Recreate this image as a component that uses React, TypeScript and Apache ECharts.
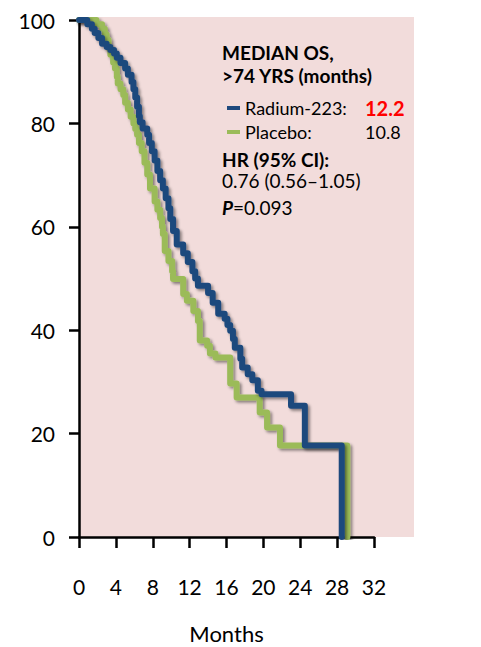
import React, { useEffect, useRef } from "react";
import * as echarts from "echarts";

// Kaplan–Meier overall survival, patients older than 74 years
const radiumMonths = [
  0, 0.9, 1.4, 1.7, 2.1, 2.5, 3.0, 3.4, 3.8, 4.1, 4.5, 5.0, 5.3, 5.7, 5.9, 6.1, 6.3, 6.5, 6.6, 6.9,
  7.4, 7.6, 7.9, 8.2, 8.5, 8.8, 9.1, 9.4, 9.7, 9.9, 10.2, 10.6, 11.3, 11.8, 12.3, 12.6, 12.9, 14.0,
  14.5, 15.1, 15.8, 16.1, 16.4, 16.7, 16.9, 17.5, 17.7, 18.3, 18.8, 19.4, 19.8, 23.0, 24.5, 28.5,
];
const radiumSurvival = [
  100, 99.2, 98.3, 97.5, 96.5, 95.4, 94.8, 94.2, 93.5, 92.7, 91.7, 90.6, 89.4, 88.0, 86.6, 85.0, 83.2,
  81.4, 80.2, 79.0, 77.8, 76.2, 74.6, 72.8, 70.8, 69.0, 67.4, 65.5, 63.6, 61.5, 59.2, 56.6, 54.9, 53.2,
  51.4, 50.0, 48.6, 47.2, 45.3, 43.2, 42.2, 41.0, 39.9, 38.3, 36.6, 34.5, 32.8, 31.5, 30.3, 28.3, 27.6,
  25.4, 17.7, 0,
];
const placeboMonths = [
  0, 1.9, 2.5, 2.8, 3.0, 3.2, 3.4, 3.7, 3.9, 4.1, 4.2, 4.5, 4.8, 5.0, 5.3, 5.6, 5.9, 6.1, 6.3, 6.5,
  6.8, 7.1, 7.4, 7.7, 8.2, 8.5, 8.8, 9.0, 9.1, 9.3, 9.7, 10.1, 10.2, 11.3, 11.7, 12.4, 12.9, 13.1,
  13.9, 14.2, 14.8, 16.4, 17.1, 19.6, 20.4, 21.8, 29.1,
];
const placeboSurvival = [
  100, 99.2, 98.3, 97.2, 96.2, 94.6, 93.3, 91.8, 90.6, 89.0, 87.7, 86.6, 85.5, 84.0, 82.7, 81.3, 80.0,
  78.9, 77.8, 76.2, 74.6, 72.4, 70.1, 67.4, 64.9, 63.3, 61.7, 60.0, 58.6, 55.3, 53.4, 51.4, 49.9, 47.0,
  45.7, 43.7, 41.8, 38.0, 37.0, 35.5, 34.7, 29.7, 27.0, 24.1, 21.2, 17.7, 0,
];

const seriesNames = ["Radium-223", "Placebo"];
const medianOS = ["12.2", "10.8"];
const hazardRatio = "0.76 (0.56\u20131.05)";
const pValue = "0.093";

const BLUE = "#1F497D";
const GREEN = "#9BBB59";
const PINK = "#F2DCDB";
const FONT = "Lato";

const pairs = (xs: number[], ys: number[]) => xs.map((x, i) => [x, ys[i]]);

const kmLine = (name: string, color: string, data: number[][]) => ({
  name,
  type: "line",
  xAxisIndex: 1,
  yAxisIndex: 1,
  step: "end",
  data,
  showSymbol: false,
  symbol: "none",
  lineStyle: {
    color,
    width: 6,
    cap: "round",
    join: "round",
    shadowColor: "rgba(0,0,0,0.45)",
    shadowBlur: 3,
    shadowOffsetX: 2,
    shadowOffsetY: 2,
  },
  itemStyle: { color },
  emphasis: { disabled: true },
  silent: true,
});

export default function App() {
  const ref = useRef<HTMLDivElement>(null);

  useEffect(() => {
    if (!ref.current) return;
    const chart = echarts.init(ref.current, null, { renderer: "svg" });

    const text = (t: string, y: number, bold: boolean) => ({
      type: "text",
      x: 222,
      y,
      style: {
        text: t,
        fontFamily: FONT,
        fontSize: 19,
        lineHeight: 19,
        fontWeight: bold ? "bold" : "normal",
        fill: "#000",
        verticalAlign: "middle",
      },
    });

    chart.setOption({
      animation: false,
      grid: [
        {
          left: 79, right: 67, top: 17, bottom: 110,
          show: true, backgroundColor: PINK, borderWidth: 0, outerBoundsMode: "none",
        },
        { left: 79, width: 295, top: 20, bottom: 110, outerBoundsMode: "none" },
      ],
      xAxis: [
        { gridIndex: 0, type: "value", min: 0, max: 1, show: false },
        {
          gridIndex: 1,
          type: "value",
          min: 0,
          max: 32,
          interval: 4,
          offset: 15,
          axisLine: { show: true, lineStyle: { color: "#000", width: 2.5 } },
          axisTick: { show: true, length: 11, lineStyle: { color: "#000", width: 2.5 } },
          axisLabel: { fontFamily: FONT, fontSize: 21, color: "#000", margin: 24 },
          splitLine: { show: false },
          name: "Months",
          nameLocation: "middle",
          nameGap: 70,
          nameTextStyle: { fontFamily: FONT, fontSize: 22, lineHeight: 22, color: "#000" },
        },
      ],
      yAxis: [
        { gridIndex: 0, type: "value", min: 0, max: 1, show: false },
        {
          gridIndex: 1,
          type: "value",
          min: 0,
          max: 100,
          interval: 20,
          offset: 10,
          axisLine: { show: true, lineStyle: { color: "#000", width: 2.5 } },
          axisTick: { show: true, length: 10, lineStyle: { color: "#000", width: 2.5 } },
          axisLabel: { fontFamily: FONT, fontSize: 21, color: "#000", margin: 14 },
          splitLine: { show: false },
        },
      ],
      legend: {
        data: seriesNames,
        orient: "vertical",
        left: 222,
        top: 93,
        itemWidth: 13,
        itemHeight: 4,
        itemGap: 5,
        icon: "rect",
        selectedMode: false,
        itemStyle: { shadowBlur: 0, shadowOffsetX: 0, shadowOffsetY: 0 },
        lineStyle: { shadowBlur: 0, shadowOffsetX: 0, shadowOffsetY: 0 },
        formatter: (name: string) =>
          name === seriesNames[0]
            ? `{n|${name}:}{r|${medianOS[0]}}`
            : `{n|${name}:}{p|${medianOS[1]}}`,
        textStyle: {
          fontFamily: FONT,
          fontSize: 18,
          color: "#000",
          rich: {
            n: { fontFamily: FONT, fontSize: 18, color: "#000", width: 120, height: 20 },
            r: { fontFamily: FONT, fontSize: 20, fontWeight: "bold", color: "#FF0000", height: 20 },
            p: { fontFamily: FONT, fontSize: 18, color: "#000", height: 20 },
          },
        },
      },
      graphic: [
        text("MEDIAN OS,", 52, true),
        text(">74 YRS (months)", 75, true),
        text("HR (95% CI):", 159, true),
        text(hazardRatio, 180, false),
        {
          type: "text",
          x: 222,
          y: 207,
          style: {
            text: `{i|P}{n|=${pValue}}`,
            verticalAlign: "middle",
            rich: {
              i: { fontFamily: FONT, fontSize: 19, fontWeight: "bold", fontStyle: "italic", fill: "#000" },
              n: { fontFamily: FONT, fontSize: 19, fill: "#000" },
            },
          },
        },
      ],
      series: [
        kmLine(seriesNames[1], GREEN, pairs(placeboMonths, placeboSurvival)),
        kmLine(seriesNames[0], BLUE, pairs(radiumMonths, radiumSurvival)),
      ],
    });

    return () => chart.dispose();
  }, []);

  return <div ref={ref} style={{ width: 481, height: 647, position: "absolute", left: 0, top: 0 }} />;
}
